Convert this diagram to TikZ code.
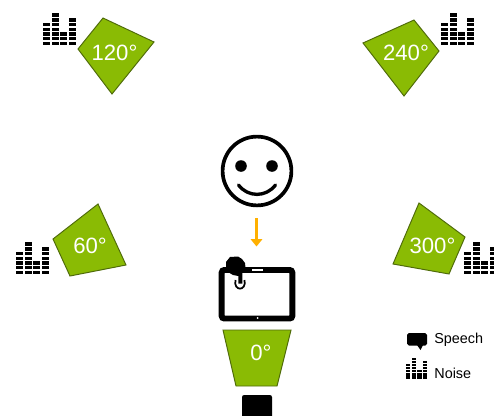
\documentclass[tikz,border=0pt]{standalone}
\usepackage{fontspec}
\setmainfont{Liberation Sans}
\usetikzlibrary{arrows.meta,calc,positioning}
\definecolor{micgreen}{HTML}{8ABB04}
\definecolor{micedge}{HTML}{4F6B0A}
\definecolor{arroworange}{HTML}{FFB000}
\tikzset{
    micface/.style={fill=micgreen,draw=micedge,line width=0.55pt,line join=miter},
    miclabel/.style={text=white,font=\fontsize{12.6pt}{14pt}\selectfont,inner sep=0pt},
    legendlabel/.style={text=black,font=\fontsize{8.2pt}{10pt}\selectfont,inner sep=0pt,anchor=base west},
    noisebars/.pic={
        \foreach \cx/\nbar in {0/5,8.7/7,17.4/3,26/6}{
            \foreach \k in {1,...,\nbar}{
                \fill[black] (\cx,33-\k*4.7) rectangle ++(6.9,3.4);
            }
        }
    }
}

\begin{document}
\begin{tikzpicture}[x=0.02cm,y=-0.02cm]
  \clip (0,0) rectangle (494,416);

  %---------------- loudspeakers ----------------
            \draw[micface] (103,18)--(154,42)--(112,94)--(78,49)--cycle;
            \node[miclabel] (mic120) at (114.5,53) {120°};
            \draw[micface] (363,43)--(414,20)--(439,51)--(404,96)--cycle;
            \node[miclabel] (mic240) at (406,53) {240°};
            \draw[micface] (98,204)--(126,265)--(70,276)--(53,239)--cycle;
            \node[miclabel] (mic60) at (90,246) {60°};
            \draw[micface] (419,203)--(465,237)--(449,274)--(393,264)--cycle;
            \node[miclabel] (mic300) at (432.5,246) {300°};
            \draw[micface] (223,330)--(291,330)--(277,386)--(236,386)--cycle;
            \node[miclabel] (mic0) at (261,353) {0°};

  %---------------- noise icons ----------------
            \foreach \nx/\ny in {43/13.3,441/13.3,16/242.3,464/242.3}{
                \pic at (\nx,\ny) {noisebars};
            }

  %---------------- face ----------------
            \coordinate (FaceC) at (257,171);
            \draw[black,line width=2.1pt] (FaceC) circle (34.4);
            \fill[black] (241,166) circle (5.8);
            \fill[black] (272,166) circle (5.8);
            \draw[black,line width=1.9pt,line cap=round] (238.5,185) .. controls (248,197.5) and (266,197.5) .. (275.5,185);

  %---------------- arrow ----------------
            \coordinate (ArrowTop) at (256.5,218);
            \coordinate (ArrowEnd) at (256.5,246.5);
            \draw[arroworange,line width=1.2pt,-{Triangle[length=4.2pt,width=6.5pt]}] (ArrowTop)--(ArrowEnd);

  %---------------- tablet ----------------
            \draw[black,line width=3.4pt,rounded corners=1.5pt] (221.7,270)--(292.3,270)--(292.3,318.5)--(221.7,318.5)--cycle;
            \fill[white] (252,269) rectangle (263,270.8);
            \fill[white] (257.6,318) circle (1);
            % ring under the finger
            \draw[black,line width=1pt] (235.5,280) .. controls (233,291.5) and (247,291.5) .. (244.5,280);
            % hand
            \fill[black] (230,257) -- (238,256.5) -- (242,259) -- (245,263) -- (245.5,268) -- (242.5,272) -- (242.3,283.5) -- (238.3,283.5) -- (238.3,276) -- (233,275) -- (228,272) -- (226,268) -- (226,262) -- cycle;

  %---------------- bottom box ----------------
            \fill[black,rounded corners=1.2pt] (242,395) rectangle (272,420);

  %---------------- legend ----------------
            \fill[black,rounded corners=1pt] (407,333) rectangle (427,345.5);
            \fill[black] (417,345) -- (420.5,350) -- (423,345) -- cycle;
            \node[legendlabel] (speech) at (434,343.5) {Speech};
            \pic[scale=0.65] at (406,358) {noisebars};
            \node[legendlabel] (noise) at (434,378.5) {Noise};
\end{tikzpicture}
\end{document}
